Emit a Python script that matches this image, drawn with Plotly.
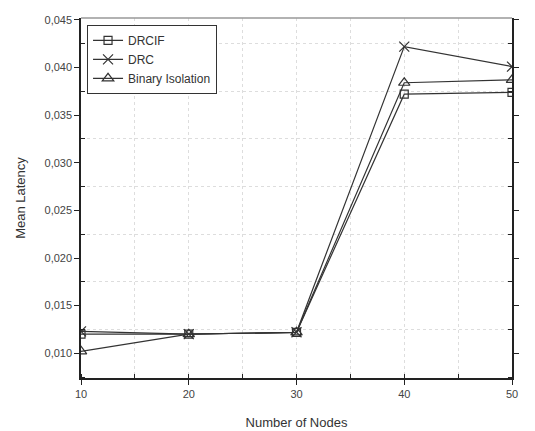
import plotly.graph_objects as go

nodes = [10, 20, 30, 40, 50]
drcif = [0.0120, 0.0120, 0.0122, 0.0372, 0.0374]
drc = [0.0123, 0.0120, 0.0122, 0.0422, 0.0401]
binary = [0.0102, 0.0120, 0.0122, 0.0384, 0.0387]
series_names = ["DRCIF", "DRC", "Binary Isolation"]
y_ticks = [0.010, 0.015, 0.020, 0.025, 0.030, 0.035, 0.040, 0.045]
x_ticks = [10, 20, 30, 40, 50]

fig = go.Figure()
styles = [
    ("square-open", drcif, 8),
    ("x-thin-open", drc, 10),
    ("triangle-up-open", binary, 10),
]
for name, (sym, vals, sz) in zip(series_names, styles):
    fig.add_trace(go.Scatter(
        x=nodes, y=vals, name=name, mode="lines+markers",
        line=dict(color="#333333", width=1.2),
        marker=dict(symbol=sym, size=sz, color="#333333",
                    line=dict(color="#333333", width=1.2)),
    ))

axis_font = dict(family="Liberation Sans, Arial, sans-serif", size=11, color="#444444")
fig.update_layout(
    width=535, height=431,
    margin=dict(l=73, r=31, t=6, b=61),
    paper_bgcolor="white", plot_bgcolor="white",
    separators=", ",
    showlegend=True,
    legend=dict(x=0.014, y=0.981, xanchor="left", yanchor="top",
                bgcolor="white", bordercolor="#333333", borderwidth=1,
                font=dict(family="Liberation Sans, Arial, sans-serif", size=12, color="#333333"),
                tracegroupgap=0, itemwidth=30),
    font=axis_font,
)
fig.update_xaxes(
    range=[10, 50], tickvals=x_ticks, ticks="outside", ticklen=5, tickcolor="#222222",
    showline=True, linecolor="#222222", linewidth=1.5, mirror=False,
    showgrid=False, zeroline=False,
    minor=dict(dtick=5, tick0=10, ticks="inside", ticklen=4, tickcolor="#222222",
               showgrid=True, gridcolor="#dddddd", griddash="dot", gridwidth=1),
    title=dict(text="Number of Nodes", font=dict(size=13, color="#333333"), standoff=19),
    tickfont=axis_font,
)
fig.update_yaxes(
    range=[0.0074, 0.0452], tickvals=y_ticks, tickformat=".3f",
    ticks="outside", ticklen=5, tickcolor="#222222",
    showline=True, linecolor="#222222", linewidth=1.5, mirror="ticks",
    showgrid=False, zeroline=False,
    minor=dict(dtick=0.005, tick0=0.0025, ticks="inside", ticklen=4, tickcolor="#222222",
               showgrid=True, gridcolor="#dddddd", griddash="dot", gridwidth=1),
    title=dict(text="Mean Latency", font=dict(size=13, color="#333333"), standoff=16),
    tickfont=axis_font,
)
fig.add_shape(type="line", xref="x domain", yref="y domain", x0=0, x1=1, y0=1, y1=1,
              line=dict(color="#999999", width=1.5))
fig.write_html("out.html")
